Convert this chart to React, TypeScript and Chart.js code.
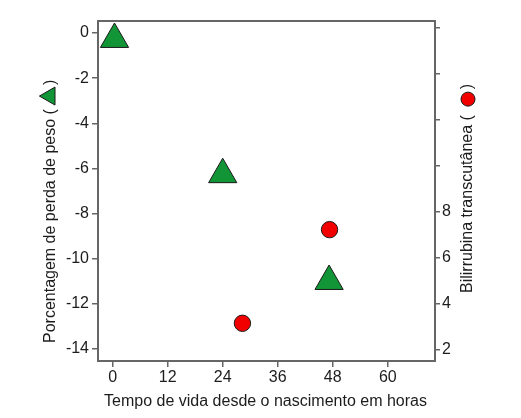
import { useEffect, useRef } from "react"
import { Chart, registerables } from "chart.js"

Chart.register(...registerables)

// hours since birth, weight loss (%) -> left axis
const weightHours = [0.4, 24, 47.2]
const weightLoss = [-0.28, -6.27, -11.0]

// hours since birth, transcutaneous bilirubin -> right axis
const biliHours = [28.3, 47.3]
const biliValues = [3.16, 7.23]

const xTicks = [0, 12, 24, 36, 48, 60]
const leftTicks = [0, -2, -4, -6, -8, -10, -12, -14]
const rightTicks = [2, 4, 6, 8, 10, 12, 14, 16]
const rightLabelMax = 8

const xTitle = "Tempo de vida desde o nascimento em horas"
const leftTitle = "Porcentagem de perda de peso ("
const rightTitle = "Bilirrubina transcutânea ("

const FONT = "'Liberation Sans', Arial, sans-serif"
const textColor = "#1c1c1c"
const axisColor = "#666666"
const green = "#129536"
const red = "#f20000"

const decor = {
  id: "decor",
  beforeDatasetsDraw(chart: any) {
    const { ctx, chartArea: a } = chart
    ctx.save()
    ctx.strokeStyle = axisColor
    ctx.lineWidth = 2
    ctx.strokeRect(a.left, a.top, a.right - a.left, a.bottom - a.top)
    ctx.restore()
  },
  afterDraw(chart: any) {
    const { ctx, chartArea: a } = chart
    ctx.save()
    ctx.font = `16px ${FONT}`
    ctx.fillStyle = textColor
    ctx.textBaseline = "middle"

    // bottom title
    ctx.textAlign = "center"
    ctx.fillText(xTitle, (a.left + a.right) / 2 - 1, 402)

    // left title with triangle marker
    ctx.textAlign = "left"
    ctx.save()
    ctx.translate(51, 343)
    ctx.rotate(-Math.PI / 2)
    ctx.fillText(leftTitle, 0, 0)
    let w = ctx.measureText(leftTitle).width
    const tw = 18
    const tx = w + 4
    ctx.beginPath()
    ctx.moveTo(tx, 4)
    ctx.lineTo(tx + tw, 4)
    ctx.lineTo(tx + tw / 2, 4 - tw * 0.866)
    ctx.closePath()
    ctx.fillStyle = green
    ctx.fill()
    ctx.strokeStyle = "#1a1a1a"
    ctx.lineWidth = 1
    ctx.stroke()
    ctx.fillStyle = textColor
    ctx.fillText(")", tx + tw + 2, 0)
    ctx.restore()

    // right title with circle marker
    ctx.save()
    ctx.translate(468, 293)
    ctx.rotate(-Math.PI / 2)
    ctx.fillText(rightTitle, 0, 0)
    w = ctx.measureText(rightTitle).width
    const r = 7
    const cx = w + 9 + r
    ctx.beginPath()
    ctx.arc(cx, 0, r, 0, Math.PI * 2)
    ctx.fillStyle = red
    ctx.fill()
    ctx.strokeStyle = "#1a1a1a"
    ctx.lineWidth = 1
    ctx.stroke()
    ctx.fillStyle = textColor
    ctx.fillText(")", cx + r + 3, 0)
    ctx.restore()

    ctx.restore()
  },
}

export default function App() {
  const canvasRef = useRef<HTMLCanvasElement>(null)

  useEffect(() => {
    if (!canvasRef.current) return
    const tickFont = { family: FONT, size: 16 }
    const grid = {
      drawOnChartArea: false,
      drawTicks: true,
      color: axisColor,
      tickColor: axisColor,
      lineWidth: 1.5,
    }

    const chart = new Chart(canvasRef.current, {
      type: "scatter",
      data: {
        datasets: [
          {
            label: "Perda de peso",
            data: weightHours.map((h, i) => ({ x: h, y: weightLoss[i] })),
            yAxisID: "y",
            pointStyle: "triangle",
            pointRadius: 16.3,
            backgroundColor: green,
            borderColor: "#1a1a1a",
            borderWidth: 1,
          },
          {
            label: "Bilirrubina",
            data: biliHours.map((h, i) => ({ x: h, y: biliValues[i] })),
            yAxisID: "y1",
            pointStyle: "circle",
            pointRadius: 8.2,
            backgroundColor: red,
            borderColor: "#1a1a1a",
            borderWidth: 1,
          },
        ],
      },
      options: {
        responsive: false,
        animation: false,
        layout: { padding: { top: 21, left: 0, right: 0, bottom: 0 } },
        plugins: {
          legend: { display: false },
          tooltip: { enabled: false },
        },
        scales: {
          x: {
            type: "linear",
            min: -3.2,
            max: 70.3,
            border: { display: false },
            grid: { ...grid, tickLength: 6 },
            ticks: { font: tickFont, color: textColor, padding: 1, autoSkip: false, maxRotation: 0 },
            afterBuildTicks: (axis: any) => {
              axis.ticks = xTicks.map((v) => ({ value: v }))
            },
            afterFit: (axis: any) => {
              axis.height = 57
            },
          },
          y: {
            type: "linear",
            position: "left",
            min: -14.53,
            max: 0.53,
            border: { display: false },
            grid: { ...grid, tickLength: 6 },
            ticks: { font: tickFont, color: textColor, padding: 3, autoSkip: false },
            afterBuildTicks: (axis: any) => {
              axis.ticks = leftTicks.map((v) => ({ value: v }))
            },
            afterFit: (axis: any) => {
              axis.width = 98
            },
          },
          y1: {
            type: "linear",
            position: "right",
            min: 1.52,
            max: 16.3,
            border: { display: false },
            grid: { ...grid, tickLength: 5 },
            ticks: {
              font: tickFont,
              color: textColor,
              padding: 2,
              autoSkip: false,
              callback: (v: any) => (Number(v) <= rightLabelMax ? String(v) : ""),
            },
            afterBuildTicks: (axis: any) => {
              axis.ticks = rightTicks.map((v) => ({ value: v }))
            },
            afterFit: (axis: any) => {
              axis.width = 86
            },
          },
        },
      },
      plugins: [decor],
    })

    return () => chart.destroy()
  }, [])

  return (
    <div style={{ position: "fixed", left: 0, top: 0, width: 521, height: 418, background: "#fff" }}>
      <canvas ref={canvasRef} width={521} height={418} style={{ display: "block" }} />
    </div>
  )
}
